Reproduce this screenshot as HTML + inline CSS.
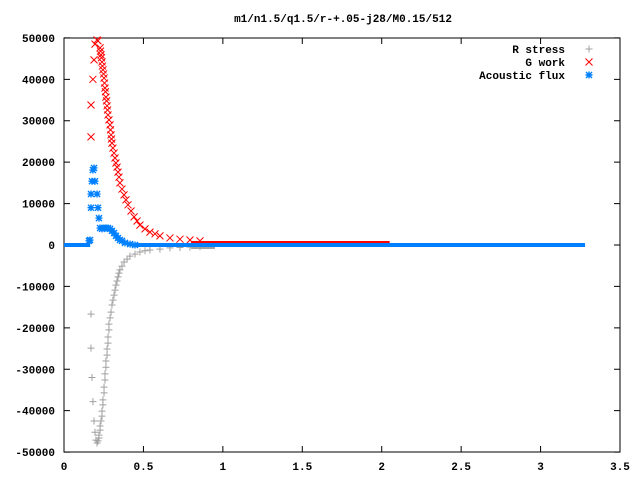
<!DOCTYPE html>
<html><head><meta charset="utf-8"><style>
body{margin:0;background:#fff}
svg{display:block;font-family:"Liberation Mono",monospace;font-size:11px;font-weight:bold}
</style></head><body>
<svg id="c" width="640" height="480" viewBox="0 0 640 480">
<rect width="640" height="480" fill="#fff"/>
<text x="343" y="22" text-anchor="middle">m1/n1.5/q1.5/r-+.05-j28/M0.15/512</text>
<g id="axes"></g>
<g id="series"></g>
<g id="legend"></g>
</svg>
<script>
const xTicks=[0,0.5,1,1.5,2,2.5,3,3.5];
const xTickLabels=["0","0.5","1","1.5","2","2.5","3","3.5"];
const yTicks=[50000,40000,30000,20000,10000,0,-10000,-20000,-30000,-40000,-50000];
const yTickLabels=["50000","40000","30000","20000","10000","0","-10000","-20000","-30000","-40000","-50000"];
const rX=[0.170,0.170,0.176,0.182,0.189,0.195,0.201,0.208,0.214,0.220,0.220,0.227,0.227,0.233,0.239,0.239,0.245,0.245,0.252,0.252,0.258,0.258,0.264,0.264,0.271,0.271,0.277,0.277,0.283,0.283,0.290,0.296,0.302,0.308,0.315,0.321,0.327,0.334,0.340,0.346,0.352,0.365,0.378,0.397,0.415,0.447,0.478,0.510,0.541,0.604,0.667,0.730,0.793,0.856];
const rY=[-16700,-24900,-32000,-37800,-42500,-45200,-47100,-47800,-47300,-46600,-45900,-44700,-43700,-42500,-41300,-40100,-38600,-37400,-35700,-34300,-32600,-31100,-29500,-28000,-26600,-25100,-23700,-22200,-20500,-19100,-17600,-16200,-14500,-13300,-12100,-10900,-9700,-8700,-7700,-6800,-6000,-5100,-4100,-3400,-2700,-2200,-1700,-1400,-1200,-1000,-700,-600,-500,-400];
const gX=[0.170,0.170,0.182,0.189,0.195,0.208,0.214,0.227,0.230,0.233,0.236,0.239,0.242,0.245,0.249,0.252,0.255,0.258,0.261,0.264,0.268,0.271,0.274,0.277,0.283,0.290,0.293,0.296,0.299,0.302,0.308,0.315,0.321,0.327,0.334,0.340,0.346,0.352,0.365,0.378,0.390,0.403,0.422,0.441,0.460,0.478,0.510,0.541,0.573,0.604,0.667,0.730,0.793,0.856];
const gY=[26100,33800,40000,44700,48500,49500,49300,47600,46800,45900,45200,44200,43200,42300,41300,40300,39100,37900,37000,35700,34800,33600,32600,31400,30200,29000,27800,26600,25600,24600,23400,22200,21000,19800,18800,17600,16400,15000,13500,12100,10900,9700,8200,6800,5800,4800,3900,3100,2700,2200,1700,1400,1200,1000];
const aX=[0.157,0.164,0.170,0.170,0.176,0.182,0.189,0.195,0.208,0.214,0.220,0.227,0.239,0.252,0.264,0.277,0.290,0.302,0.315,0.327,0.340,0.352,0.365,0.384,0.416,0.447];
const aY=[1000,1200,9000,12300,15400,18100,18600,15400,12300,9000,6500,4100,3900,4100,4100,4100,3900,3400,2900,2200,1700,1200,1000,500,200,0];
const flatX=[[0,0.165],[0.447,3.28]];
const gFlat=[[0.80,2.05]];
const rFlat=[[0.80,0.95]];
const X=v=>64+v*158.86, Y=v=>245-v*0.004142;
const NS="http://www.w3.org/2000/svg";
function mk(p,t,a){const e=document.createElementNS(NS,t);for(const k in a)e.setAttribute(k,a[k]);p.appendChild(e);return e;}
const ax=document.getElementById('axes');
const frame=mk(ax,'rect',{x:64,y:38,width:556,height:414,fill:'none',stroke:'#000','stroke-width':1});


xTicks.forEach((v,i)=>{
 const l=mk(ax,'path',{d:`M${X(v)} 452v-6M${X(v)} 38v6`,stroke:'#000'});
 
 
 const t=mk(ax,'text',{x:X(v),y:470,'text-anchor':'middle'});t.textContent=xTickLabels[i];
 
 
});
yTicks.forEach((v,i)=>{
 const l=mk(ax,'path',{d:`M64 ${Y(v)}h6M620 ${Y(v)}h-6`,stroke:'#000'});
 
 
 const t=mk(ax,'text',{x:55,y:Y(v)+4,'text-anchor':'end'});t.textContent=yTickLabels[i];
 
 
});
const se=document.getElementById('series');
function plus(g,x,y,c){return mk(g,'path',{d:`M${x-3.5} ${y}h7M${x} ${y-3.5}v7`,stroke:c,fill:'none'});}
function cross(g,x,y,c){return mk(g,'path',{d:`M${x-3.5} ${y-3.5}l7 7M${x-3.5} ${y+3.5}l7 -7`,stroke:c,fill:'none'});}
function star(g,x,y,c){return mk(g,'path',{d:`M${x-3.5} ${y}h7M${x} ${y-3.5}v7M${x-3} ${y-3}l6 6M${x-3} ${y+3}l6 -6`,stroke:c,fill:'none','stroke-width':1.4});}
const gr=mk(se,'g',{});
rFlat.forEach(s=>{const b=mk(gr,'rect',{x:X(s[0]),y:Y(0)+1,width:X(s[1])-X(s[0]),height:3,fill:'#a0a0a0'});
 
 });
rX.forEach((v,i)=>{const m=plus(gr,X(v),Y(rY[i]),'#a0a0a0');
 
 });
const gg=mk(se,'g',{});
gFlat.forEach(s=>{const b=mk(gg,'rect',{x:X(s[0]),y:Y(0)-4,width:X(s[1])-X(s[0]),height:4,fill:'#f00'});
 
 });
gX.forEach((v,i)=>{const m=cross(gg,X(v),Y(gY[i]),'#f00');
 
 });
const ga=mk(se,'g',{});
flatX.forEach(s=>{const b=mk(ga,'rect',{x:X(s[0]),y:Y(0)-2,width:X(s[1])-X(s[0]),height:4,fill:'#0080ff'});
 
 });
aX.forEach((v,i)=>{const m=star(ga,X(v),Y(aY[i]),'#0080ff');
 
 });
const lg=document.getElementById('legend');
[["R stress",plus,'#a0a0a0',"legend-r-stress"],["G work",cross,'#f00',"legend-g-work"],["Acoustic flux",star,'#0080ff',"legend-acoustic-flux"]].forEach((e,i)=>{
 const y=49+i*13;
 const t=mk(lg,'text',{x:565,y:y+4,'text-anchor':'end'});t.textContent=e[0];
 
 
 const m=e[1](lg,589,y,e[2]);
 
 
});
</script>
</body></html>
